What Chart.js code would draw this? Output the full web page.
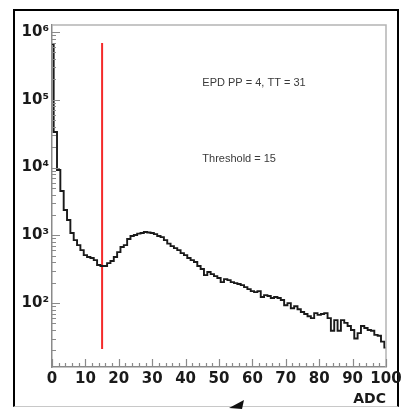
<!DOCTYPE html>
<html>
<head>
<meta charset="utf-8">
<script src="https://cdn.jsdelivr.net/npm/chart.js@4.4.0/dist/chart.umd.min.js"></script>
<style>
  html, body { margin: 0; padding: 0; background: #fff; }
  body { width: 408px; height: 409px; position: relative; overflow: hidden; }
  #box {
    position: absolute; left: 13px; top: 9px; width: 382px; height: 395px;
    border: 2px solid #000; border-bottom: 1px solid #c8c8c8;
  }
  #c { position: absolute; left: 0; top: 0; }
  #arrow { position: absolute; left: 0; top: 0; }
</style>
</head>
<body>
<div id="box"></div>
<svg id="arrow" width="408" height="409"><polygon points="229,408 244,400 242,409" fill="#111"/></svg>
<canvas id="c" width="408" height="409"></canvas>
<script>
// ADC spectrum, one count per ADC bin (bins centred on 0, 1, ... 100)
const adcCounts = [
  665000, 33400, 9190, 4500, 2360, 1680, 1080, 851, 718, 605,
  511, 478, 462, 431, 364, 352, 352, 389, 417, 478,
  566, 671, 718, 881, 975, 1010, 1060, 1080, 1117, 1100,
  1080, 1042, 975, 942, 851, 755, 693, 648, 605, 547,
  511, 462, 431, 403, 352, 318, 259, 287, 268, 250,
  234, 204, 226, 218, 204, 197, 191, 184, 172, 161,
  150, 145, 150, 123, 131, 127, 119, 123, 119, 111,
  93, 100, 84, 90, 81, 74, 69, 64, 60, 71,
  67, 69, 71, 60, 39, 56, 39, 56, 51, 46,
  40, 30, 36, 46, 43, 40, 39, 34, 33, 27, 22
];

const threshold = 15;
const thresholdLineY = [21, 690000];

const xTicks = [0, 10, 20, 30, 40, 50, 60, 70, 80, 90, 100];
const yTicks = [1e2, 1e3, 1e4, 1e5, 1e6];

const notes = [
  { text: "EPD PP = 4, TT = 31", x: 45, y: 177000 },
  { text: "Threshold = 15", x: 45, y: 13300 }
];

const xMin = 0, xMax = 100;

// step outline: left edge of each bin (clipped to the axis), plus the closing edge
const histPoints = adcCounts.map((c, i) => ({ x: Math.max(i - 0.5, xMin), y: c }));
histPoints.push({ x: xMax, y: adcCounts[adcCounts.length - 1] });

const sup = { "0": "\u2070", "1": "\u00b9", "2": "\u00b2", "3": "\u00b3", "4": "\u2074",
  "5": "\u2075", "6": "\u2076", "7": "\u2077", "8": "\u2078", "9": "\u2079" };

// ROOT style inward ticks, frame and text boxes
const rootFrame = {
  id: "rootFrame",
  afterDatasetsDraw(chart) {
    const ctx = chart.ctx;
    const a = chart.chartArea;
    const xs = chart.scales.x, ys = chart.scales.y;
    ctx.save();
    ctx.strokeStyle = "#b4b4b4";
    ctx.lineWidth = 1.5;
    ctx.beginPath();
    ctx.moveTo(a.left, a.top); ctx.lineTo(a.right, a.top); ctx.lineTo(a.right, a.bottom);
    ctx.stroke();

    ctx.strokeStyle = "#8a8a8a";
    ctx.lineWidth = 1.2;
    ctx.beginPath();
    for (let v = 0; v <= 100; v += 2) {
      const px = Math.round(xs.getPixelForValue(v)) + 0.5;
      const len = v % 10 === 0 ? 8 : 4;
      ctx.moveTo(px, a.bottom); ctx.lineTo(px, a.bottom - len);
    }
    for (let e = 1; e <= 6; e++) {
      for (let m = 1; m <= 9; m++) {
        const v = m * Math.pow(10, e);
        if (v < ys.min || v > ys.max) continue;
        const py = Math.round(ys.getPixelForValue(v)) + 0.5;
        const len = m === 1 ? 8 : 4;
        ctx.moveTo(a.left, py); ctx.lineTo(a.left + len, py);
      }
    }
    ctx.stroke();

    ctx.fillStyle = "#3a3a3a";
    ctx.font = "11px 'Liberation Sans', Arial, sans-serif";
    ctx.textAlign = "left";
    ctx.textBaseline = "middle";
    notes.forEach(n => {
      ctx.fillText(n.text, xs.getPixelForValue(n.x), ys.getPixelForValue(n.y));
    });
    ctx.restore();
  }
};

new Chart(document.getElementById("c"), {
  type: "scatter",
  data: {
    datasets: [
      {
        label: "ADC",
        data: histPoints,
        showLine: true,
        stepped: "before",
        borderColor: "#1a1a1a",
        borderWidth: 1.9,
        pointRadius: 0,
        fill: false
      },
      {
        label: "Threshold",
        data: thresholdLineY.map(y => ({ x: threshold, y: y })),
        showLine: true,
        borderColor: "#f42a2a",
        borderWidth: 2,
        pointRadius: 0
      }
    ]
  },
  options: {
    responsive: false,
    animation: false,
    events: [],
    layout: { padding: { left: 0, top: 25, right: 22, bottom: 0 } },
    plugins: { legend: { display: false }, tooltip: { enabled: false } },
    scales: {
      x: {
        type: "linear",
        min: xMin,
        max: xMax,
        afterFit: s => { s.height = 42; },
        afterBuildTicks: s => { s.ticks = xTicks.map(v => ({ value: v })); },
        grid: { display: false, drawTicks: false },
        border: { display: true, color: "#8a8a8a", width: 1.5 },
        ticks: {
          padding: 3,
          maxRotation: 0,
          autoSkip: false,
          color: "#1a1a1a",
          font: { family: "'DejaVu Sans'", size: 15, weight: "bold" }
        },
        title: {
          display: true,
          text: "ADC",
          align: "end",
          color: "#1a1a1a",
          padding: { top: 0, bottom: 1 },
          font: { family: "'DejaVu Sans'", size: 14, weight: "bold" }
        }
      },
      y: {
        type: "logarithmic",
        min: 11.4,
        max: 1270000,
        afterFit: s => { s.width = 52; },
        afterBuildTicks: s => { s.ticks = yTicks.map(v => ({ value: v })); },
        grid: { display: false, drawTicks: false },
        border: { display: true, color: "#8a8a8a", width: 1.5 },
        ticks: {
          padding: 3,
          autoSkip: false,
          color: "#1a1a1a",
          font: { family: "'DejaVu Sans'", size: 15, weight: "bold" },
          callback: v => "10" + String(Math.round(Math.log10(v))).split("").map(d => sup[d]).join("")
        }
      }
    }
  },
  plugins: [rootFrame]
});
</script>
</body>
</html>
